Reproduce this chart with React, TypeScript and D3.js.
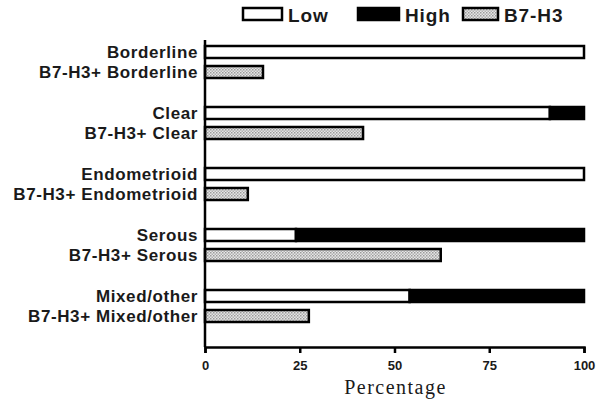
import React, { useEffect, useRef } from 'react';
import * as d3 from 'd3';

const groups = ['Borderline', 'Clear', 'Endometrioid', 'Serous', 'Mixed/other'];
const lowValues = [100, 91, 100, 24, 54];
const highValues = [0, 9, 0, 76, 46];
const b7h3Values = [15.3, 41.7, 11.3, 62.2, 27.4];
const xTicks = [0, 25, 50, 75, 100];
const legendItems = ['Low', 'High', 'B7-H3'];

const App = () => {
    const svgRef = useRef<SVGSVGElement>(null);

    useEffect(() => {
        const svg = d3.select(svgRef.current);
        svg.selectAll('*').remove();
        const left = 205;
        const right = 584;
        const top = 40;
        const bottom = 347;
        const font = '"Liberation Sans", Arial, sans-serif';

        const defs = svg.append('defs');
        const pat = defs.append('pattern')
            .attr('id', 'dots')
            .attr('width', 3)
            .attr('height', 3)
            .attr('patternUnits', 'userSpaceOnUse');
        pat.append('rect').attr('width', 3).attr('height', 3).attr('fill', '#e6e6e6');
        pat.append('rect').attr('width', 1.5).attr('height', 1.5).attr('fill', '#9a9a9a');
        pat.append('rect').attr('x', 1.5).attr('y', 1.5).attr('width', 1.5).attr('height', 1.5).attr('fill', '#b0b0b0');

        const x = d3.scaleLinear().domain([0, 100]).range([left, right]);
        const yGroup = d3.scaleBand().domain(groups).range([42, 347]);
        const inner = d3.scaleBand().domain(['main', 'b7']).range([0, 40]).paddingInner(0.4).paddingOuter(0.2);
        const barH = inner.bandwidth();

        const g = svg.append('g');

        const label = (y: number, txt: string) => {
            g.append('text')
                .attr('x', 198).attr('y', y)
                .attr('dy', '0.36em')
                .attr('text-anchor', 'end')
                .attr('font-family', font).attr('font-weight', 'bold').attr('font-size', 17)
                .attr('letter-spacing', 0.6)
                .attr('fill', '#1a1a1a')
                .text(txt);
        };

        groups.forEach((grp, i) => {
            const y0 = yGroup(grp) as number;
            const yMain = y0 + (inner('main') as number);
            const yB7 = y0 + (inner('b7') as number);
            g.append('rect')
                .attr('x', x(0)).attr('y', yMain)
                .attr('width', x(lowValues[i]) - x(0)).attr('height', barH)
                .attr('fill', '#fff').attr('stroke', '#000').attr('stroke-width', 2.5);
            if (highValues[i] > 0) {
                g.append('rect')
                    .attr('x', x(lowValues[i])).attr('y', yMain)
                    .attr('width', x(lowValues[i] + highValues[i]) - x(lowValues[i])).attr('height', barH)
                    .attr('fill', '#000').attr('stroke', '#000').attr('stroke-width', 2.5);
            }
            g.append('rect')
                .attr('x', x(0)).attr('y', yB7)
                .attr('width', x(b7h3Values[i]) - x(0)).attr('height', barH)
                .attr('fill', 'url(#dots)').attr('stroke', '#000').attr('stroke-width', 2.5);

            label(yMain + barH / 2, grp);
            label(yB7 + barH / 2, 'B7-H3+ ' + grp);
        });

        // y axis line
        svg.append('line')
            .attr('x1', left).attr('x2', left).attr('y1', top).attr('y2', bottom)
            .attr('stroke', '#000').attr('stroke-width', 2.5);

        const xAxis = d3.axisBottom(x).tickValues(xTicks).tickSize(6).tickSizeOuter(6);
        const ax = svg.append('g').attr('transform', `translate(0, ${bottom})`).call(xAxis);
        ax.select('.domain').attr('stroke-width', 2.5);
        ax.selectAll('.tick line').attr('stroke-width', 2.5);
        ax.selectAll('.tick text')
            .attr('font-family', font).attr('font-weight', 'bold').attr('font-size', 13)
            .attr('fill', '#1a1a1a').attr('y', 14).attr('dy', '0.71em');

        svg.append('text')
            .attr('x', (left + right) / 2 + 1).attr('y', 394)
            .attr('text-anchor', 'middle')
            .attr('font-family', '"Liberation Serif", "Times New Roman", serif')
            .attr('font-size', 20)
            .attr('letter-spacing', 1.5)
            .attr('fill', '#1a1a1a')
            .text('Percentage');

        // legend
        const legendX = [243, 358, 463];
        const legendW = [39, 41, 35];
        const fills = ['#fff', '#000', 'url(#dots)'];
        legendItems.forEach((name, i) => {
            svg.append('rect')
                .attr('x', legendX[i]).attr('y', 8)
                .attr('width', legendW[i]).attr('height', 12)
                .attr('fill', fills[i]).attr('stroke', '#000').attr('stroke-width', 2.5);
            svg.append('text')
                .attr('x', legendX[i] + legendW[i] + 6).attr('y', 15)
                .attr('dy', '0.36em')
                .attr('font-family', font).attr('font-weight', 'bold').attr('font-size', 19)
                .attr('letter-spacing', 0.9)
                .attr('fill', '#1a1a1a')
                .text(name);
        });
    }, []);

    return (
        <svg ref={svgRef} width="601" height="408" style={{ position: 'absolute', left: 0, top: 0, background: '#fff' }}></svg>
    );
};

export default App;
